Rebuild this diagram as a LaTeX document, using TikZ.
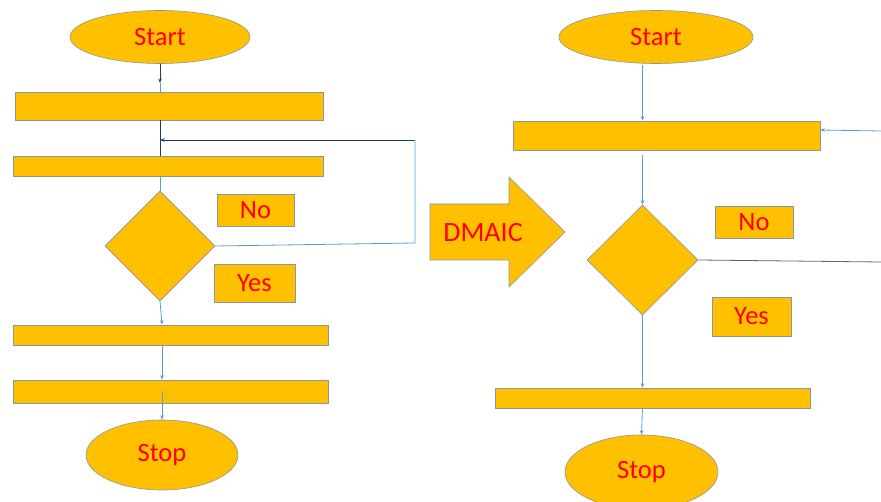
\documentclass[tikz,border=0pt]{standalone}
\usepackage{fontspec}
\setmainfont{Carlito}
\usetikzlibrary{shapes.geometric,arrows.meta}
\definecolor{gold}{HTML}{FFC000}
\definecolor{edge}{HTML}{8C96A0}
\definecolor{navy}{HTML}{1F3864}
\definecolor{skyline}{HTML}{5B9BD5}
\definecolor{txtred}{HTML}{FF0000}
\tikzset{
  base/.style={fill=gold, draw=edge, line width=0.6pt, inner sep=0pt, text=txtred,
               font=\fontsize{26.5}{30}\selectfont},
  term/.style={base, ellipse},
  procbox/.style={base, rectangle},
  decide/.style={base, diamond, minimum width=110pt, minimum height=110pt},
  tag/.style={base, rectangle},
  tip/.style={-{Stealth[length=4.5pt,width=3.5pt]}},
  darkline/.style={draw=navy, line width=0.8pt},
  paleline/.style={draw=skyline, line width=0.8pt},
  greyline/.style={draw=black!60, line width=0.8pt},
}
\begin{document}
\begin{tikzpicture}[x=1pt, y=-1pt]
\useasboundingbox (0,0) rectangle (881,502);
\fill[white] (0,0) rectangle (881,502);

% ---------- left chart ----------
\node[term, minimum width=180pt, minimum height=53pt] (s1) at (160,37) {Start};
\node[procbox, minimum width=308pt, minimum height=28pt] (r1) at (169,106) {};
\node[procbox, minimum width=310pt, minimum height=20pt] (r2) at (168,166) {};
\node[decide] (d1) at (160,246) {};
\node[tag, minimum width=77pt, minimum height=32pt] (no1) at (255.5,210) {No};
\node[tag, minimum width=81pt, minimum height=38pt] (yes1) at (254.5,283) {Yes};
\node[procbox, minimum width=315pt, minimum height=20pt] (r3) at (170.5,335) {};
\node[procbox, minimum width=315pt, minimum height=23pt] (r4) at (170.5,391.5) {};
\node[term, minimum width=152pt, minimum height=70pt] (e1) at (162,455) {Stop};

\coordinate (c0) at (160,83);
\coordinate (c1) at (415,140);
\coordinate (c2) at (415,243);

\draw[darkline, tip] (s1.south) -- (c0);
\draw[paleline] (c0) -- (c0 |- r1.north);
\draw[darkline] (s1.south |- r1.south) -- (s1.south |- r2.north);
\draw[darkline, tip] (c1) -- (s1.south |- c1);
\draw[paleline] (d1.east) -- (c2) -- (c1);
\draw[paleline] (s1.south |- r2.south) -- (d1.north);
\draw[paleline, tip] (d1.south) -- (e1.north |- r3.north);
\draw[paleline, tip] (e1.north |- r3.south) -- (e1.north |- r4.north);
\draw[paleline, tip] (e1.north |- r4.center) -- (e1.north);

% ---------- improvement arrow ----------
\fill[gold, draw=edge, line width=0.6pt]
  (430,204) -- (509,204) -- (509,177) -- (565,232) -- (509,287) -- (509,260) -- (430,260) -- cycle;
\node[text=txtred, font=\fontsize{28}{32}\selectfont, inner sep=0pt] (dm) at (483,233) {DMAIC};

% ---------- right chart ----------
\node[term, minimum width=194pt, minimum height=53pt] (s2) at (656,37) {Start};
\node[procbox, minimum width=307pt, minimum height=29pt] (q1) at (666.5,135.5) {};
\node[decide, minimum width=111pt] (d2) at (642.5,260) {};
\node[tag, minimum width=78pt, minimum height=32pt] (no2) at (754,222) {No};
\node[tag, minimum width=79pt, minimum height=39pt] (yes2) at (751.5,316.5) {Yes};
\node[procbox, minimum width=315pt, minimum height=20pt] (q2) at (652.5,398) {};
\node[term, minimum width=153pt, minimum height=74pt] (e2) at (641.5,472) {Stop};

\coordinate (c3) at (881,131);
\coordinate (c4) at (881,262);

\draw[paleline, tip] (d2.north |- 0,65) -- (d2.north |- q1.north);
\draw[paleline, tip] (c3) -- (q1.east |- 0,130);
\draw[paleline, tip, shorten <=5pt] (d2.north |- q1.south) -- (d2.north);
\draw[greyline] (d2.east) -- (c4);
\draw[paleline, tip] (d2.south) -- (d2.south |- q2.north);
\draw[paleline, tip] (d2.south |- q2.south) -- (e2.north);
\end{tikzpicture}
\end{document}
